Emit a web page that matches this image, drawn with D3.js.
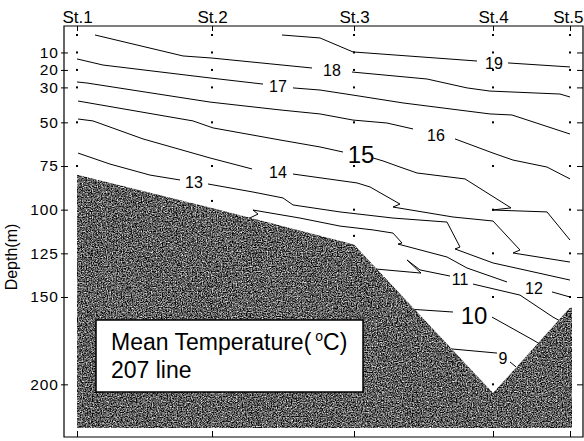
<!DOCTYPE html>
<html>
<head>
<meta charset="utf-8">
<script src="https://cdn.jsdelivr.net/npm/d3@7"></script>
<style>
  html, body { margin: 0; padding: 0; background: #fff; }
  svg { display: block; }
  text { font-family: "Liberation Sans", Arial, Helvetica, sans-serif; fill: #000; }
</style>
</head>
<body>
<svg id="chart" width="584" height="441"></svg>
<script>
// Stations along the section (distance in km from St.1) and bottom depth (m)
const stationNames = ["St.1", "St.2", "St.3", "St.4", "St.5"];
const stationKm = [0, 13.5, 27.7, 41.6, 49.3];
const bottomDepth = [80, 99, 120, 205, 156];
const sectionEndKm = 49.5;
const sectionBaseDepth = 225;

// Depths sampled at each station (m)
const sampleDepths = [
  [0, 10, 20, 30, 50, 75],
  [0, 10, 20, 30, 50, 75, 95],
  [0, 10, 20, 30, 50, 75, 100, 115],
  [0, 10, 20, 30, 50, 75, 100, 125, 150, 200],
  [0, 10, 20, 30, 50, 75, 100, 125, 150]
];
const depthTicks = [10, 20, 30, 50, 75, 100, 125, 150, 200];

// Isotherms: each is a list of line pieces of [km, depth] (pieces break at labels)
const t19 = [[[20.5, 0], [24.3, 1.7], [27.6, 9.7], [40.0, 14.9]],
             [[43.1, 16.0], [49.3, 18.3]]];
const t18 = [[[1.8, 0], [10.6, 12.0], [13.5, 13.2], [23.5, 18.9]],
             [[27.5, 21.2], [35.0, 25.2], [39.0, 30.3], [41.3, 32.1], [48.3, 33.8], [49.3, 35.5]]];
const t17 = [[[0, 13.7], [2.6, 17.2], [13.3, 24.6], [18.6, 28.1]],
             [[21.6, 30.3], [24.3, 31.5], [27.6, 34.4], [32.6, 38.9], [41.3, 45.2], [43.5, 45.8], [49.3, 56.7]]];
const t16 = [[[0, 26.9], [1.0, 27.5], [13.3, 38.4], [20.3, 42.9], [24.3, 45.2], [27.6, 48.7], [31.0, 50.4], [33.6, 53.8]],
             [[37.8, 59.5], [41.6, 67.6], [43.6, 71.6], [47.0, 75.6], [49.3, 82.4]]];
const t15 = [[[0.1, 37.8], [11.6, 49.2], [13.6, 53.2], [20.3, 60.1], [24.3, 64.1], [26.6, 67.0]],
             [[29.6, 70.4], [30.6, 72.1], [32.3, 75.6], [34.0, 79.0], [38.8, 82.4], [43.4, 99.0], [41.5, 100.2], [47.0, 101.3], [49.3, 117.4]]];
const t14 = [[[0.1, 48.1], [1.6, 49.2], [6.6, 59.5], [13.3, 70.4], [17.5, 76.7]],
             [[21.6, 79.6], [28.0, 84.7], [29.3, 87.0], [32.3, 96.8], [31.6, 98.5], [37.6, 104.2], [41.6, 106.5], [44.3, 123.1], [43.6, 124.8], [49.3, 130.0]]];
const t13 = [[[0.1, 67.6], [3.3, 73.9], [7.3, 80.2], [10.3, 83.0]],
             [[13.1, 85.3], [17.6, 89.9], [20.6, 93.3], [21.6, 97.3], [26.3, 101.3], [31.6, 104.8], [37.0, 107.1], [38.3, 121.4], [37.8, 122.5], [41.6, 130.5], [49.3, 140.3]]];
const t12 = [[[17.2, 105], [18.1, 102.5], [17.6, 100.2], [18.7, 101.3], [22.3, 104.8], [26.3, 109.4], [29.6, 111.6], [31.6, 113.4], [32.5, 119.1], [32.1, 119.7], [37.0, 127.1], [39.0, 133.4], [43.0, 141.4]],
             [[47.5, 147.1], [49.3, 150.0]]];
const t11 = [[[29.9, 134.0], [34.4, 136.3], [33.0, 128.8], [34.3, 134.5], [37.3, 138.0]],
             [[39.6, 142.6], [44.3, 148.9], [47.6, 161.5], [48.4, 164.0]]];
const t10 = [[[33.4, 157.0], [37.6, 158.6]],
             [[41.5, 161.5], [45.6, 174.6], [46.6, 178.0]]];
const t9 = [[[37.0, 179.5], [42.0, 182.1]],
            [[43.3, 187.2], [43.9, 190.0]]];

const levels = [19, 18, 17, 16, 15, 14, 13, 12, 11, 10, 9];
const isotherms = [t19, t18, t17, t16, t15, t14, t13, t12, t11, t10, t9];
// Where each level's label sits, [km, depth]
const labelPoints = [[41.7, 16.0], [25.5, 20.0], [20.1, 29.2], [35.9, 57.3], [28.4, 68.1],
                     [20.1, 78.5], [11.7, 84.2], [45.7, 144.8], [38.3, 139.7], [39.7, 160.3], [42.6, 184.9]];

const legendLines = ["Mean Temperature(", "207 line"];

// ---- scales ----
const svg = d3.select("#chart");
const x = d3.scaleLinear().domain([0, sectionEndKm]).range([77, 572]);
const y = d3.scaleLinear().domain([-5.15, 230.15]).range([26, 437]);
const frame = { left: 64, right: 583, top: 26, bottom: 437 };

svg.append("rect").attr("width", 584).attr("height", 441).attr("fill", "#fff");

// grainy shading for the sea floor
const defs = svg.append("defs");
const f = defs.append("filter").attr("id", "grain")
  .attr("x", 0).attr("y", 0).attr("width", 1).attr("height", 1)
  .attr("color-interpolation-filters", "sRGB");
f.append("feTurbulence").attr("type", "fractalNoise").attr("baseFrequency", 0.8)
  .attr("numOctaves", 3).attr("seed", 11).attr("result", "noise");
f.append("feColorMatrix").attr("in", "noise").attr("type", "matrix")
  .attr("values", "1.6 0 0 0 -0.43  1.6 0 0 0 -0.43  1.6 0 0 0 -0.43  0 0 0 0 1")
  .attr("result", "gray");
f.append("feComposite").attr("in", "gray").attr("in2", "SourceGraphic").attr("operator", "in");

// ---- isotherms ----
const line = d3.line().x(d => x(d[0])).y(d => y(d[1]));
const gIso = svg.append("g");
isotherms.forEach(pieces => {
  pieces.forEach(p => {
    gIso.append("path").attr("d", line(p))
      .attr("fill", "none").attr("stroke", "#000").attr("stroke-width", 1);
  });
});

// ---- sea floor ----
const floorPts = [[0, sectionBaseDepth]]
  .concat(stationKm.map((k, i) => [k, bottomDepth[i]]))
  .concat([[sectionEndKm, bottomDepth[bottomDepth.length - 1]], [sectionEndKm, sectionBaseDepth]]);
svg.append("path")
  .attr("d", line(floorPts) + "Z")
  .attr("fill", "#555")
  .attr("filter", "url(#grain)");

// ---- isotherm labels ----
svg.append("g").selectAll("text").data(levels).join("text")
  .attr("x", (d, i) => x(labelPoints[i][0]))
  .attr("y", (d, i) => y(labelPoints[i][1]))
  .attr("dy", "0.36em")
  .attr("text-anchor", "middle")
  .attr("font-size", d => d % 5 === 0 ? 24 : 16)
  .text(d => d);

// ---- sample dots ----
const gDots = svg.append("g");
sampleDepths.forEach((depths, i) => {
  depths.forEach(dep => {
    gDots.append("rect")
      .attr("x", x(stationKm[i]) - 1).attr("y", y(dep) - 1)
      .attr("width", 2).attr("height", 2).attr("fill", "#000");
  });
});

// ---- legend box ----
const lg = svg.append("g");
lg.append("rect").attr("x", 96).attr("y", 320).attr("width", 267).attr("height", 72)
  .attr("fill", "#fff").attr("stroke", "#000").attr("stroke-width", 1.5);
const t1 = lg.append("text").attr("x", 111).attr("y", 350).attr("font-size", 23);
t1.append("tspan").text(legendLines[0]);
t1.append("tspan").attr("dx", 4).attr("dy", -9).attr("font-size", 14).text("o");
t1.append("tspan").attr("dy", 9).text("C)");
lg.append("text").attr("x", 111).attr("y", 378).attr("font-size", 23).text(legendLines[1]);

// ---- axes ----
const styleAxis = g => {
  g.attr("font-family", null).attr("font-size", null);
  g.select(".domain").remove();
  g.selectAll("line").attr("stroke", "#000");
};

const gTop = svg.append("g").attr("transform", `translate(0,${frame.top})`)
  .call(d3.axisTop(x).tickValues(stationKm).tickFormat((d, i) => stationNames[i])
    .tickSizeInner(-5).tickSizeOuter(0).tickPadding(3))
  .call(styleAxis);
gTop.selectAll("text").attr("font-size", 17);
// keep the last station name inside the right edge
gTop.selectAll("text").filter((d, i, n) => i === n.length - 1)
  .attr("text-anchor", "end").attr("x", 13);

const gLeft = svg.append("g").attr("transform", `translate(${frame.left},0)`)
  .call(d3.axisLeft(y).tickValues(depthTicks).tickSize(0).tickPadding(5))
  .call(styleAxis);
gLeft.selectAll("text").attr("font-size", 15.5).attr("letter-spacing", 1);
gLeft.selectAll(".tick").append("line").attr("x1", -3).attr("x2", 4).attr("stroke", "#000");

svg.append("g").attr("transform", `translate(${frame.right},0)`)
  .call(d3.axisRight(y).tickValues(depthTicks).tickSize(-6).tickFormat(""))
  .call(styleAxis);

svg.append("g").attr("transform", `translate(0,${frame.bottom})`)
  .call(d3.axisBottom(x).tickValues(stationKm).tickSize(-6).tickFormat(""))
  .call(styleAxis);

svg.append("path")
  .attr("d", `M${frame.left},${frame.top}H${frame.right}V${frame.bottom}H${frame.left}Z`)
  .attr("fill", "none").attr("stroke", "#000").attr("stroke-width", 1.2);

svg.append("text")
  .attr("transform", "translate(17,257) rotate(-90)")
  .attr("text-anchor", "middle").attr("font-size", 16)
  .text("Depth(m)");
</script>
</body>
</html>
